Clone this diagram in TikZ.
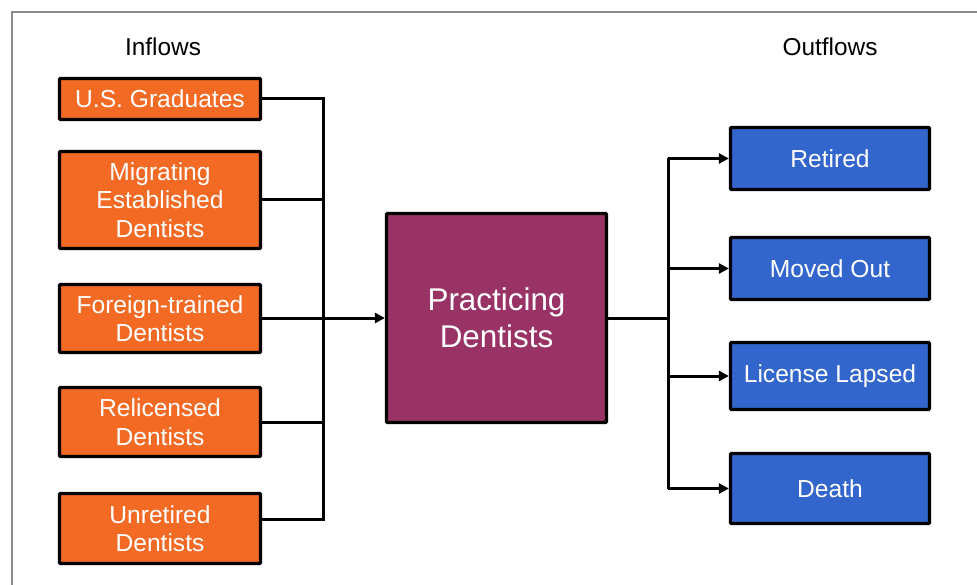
\documentclass[tikz,border=0pt]{standalone}
\usepackage{fontspec}
\setmainfont{Liberation Sans}
\usetikzlibrary{arrows.meta}
\definecolor{inorange}{HTML}{F26A24}
\definecolor{pdpurple}{HTML}{993366}
\definecolor{outblue}{HTML}{3366CC}
\definecolor{framegray}{HTML}{8C8C8C}
\begin{document}
\begin{tikzpicture}[x=1pt,y=-1pt,
  box/.style={draw=black,line width=3.2pt,rounded corners=1pt,inner sep=0pt,text=white,align=center,
    font=\fontsize{24.6}{28.5}\selectfont},
  inbox/.style={box,fill=inorange,minimum width=201pt},
  outbox/.style={box,fill=outblue,minimum width=199pt},
  conn/.style={line width=3pt,line join=miter},
  arr/.style={conn,-{Triangle[length=10pt,width=10pt]}},
  head/.style={font=\fontsize{24.4}{28}\selectfont,inner sep=0pt}]
\useasboundingbox (0,0) rectangle (977,585);
\begin{scope}
\clip (0,0) rectangle (977,585);
\draw[framegray,line width=1.5pt] (12,12) rectangle (1000,620);
\end{scope}
\node[head] (inh) at (163,47) {Inflows};
\node[head] (outh) at (830,47) {Outflows};
\node[inbox,minimum height=41pt] (us) at (160,99) {U.S. Graduates};
\node[inbox,minimum height=97pt] (mig) at (160,200) {Migrating\\Established\\Dentists};
\node[inbox,minimum height=68pt] (for) at (160,318.5) {Foreign-trained\\Dentists};
\node[inbox,minimum height=69pt] (rel) at (160,422) {Relicensed\\Dentists};
\node[inbox,minimum height=70pt] (unr) at (160,528.5) {Unretired\\Dentists};
\node[box,fill=pdpurple,minimum width=220pt,minimum height=209pt,font=\fontsize{31.4}{37}\selectfont] (pd) at (496.5,318) {Practicing\\Dentists};
\node[outbox,minimum height=62pt] (ret) at (830,158.5) {Retired};
\node[outbox,minimum height=62pt] (mov) at (830,268.5) {Moved Out};
\node[outbox,minimum height=67pt] (lic) at (830,376) {License Lapsed};
\node[outbox,minimum height=70pt] (dea) at (830,488.5) {Death};
\coordinate (bt) at (323,99);
\coordinate (bb) at (323,519);
\coordinate (rx) at (668,318);
\draw[conn] (us.east) -- (bt) -- (bb) -- ([yshift=9.5pt]unr.east);
\draw[conn] (mig.east) -- (mig.east -| bt);
\draw[conn] (for.east) -- (for.east -| bt);
\draw[conn] (rel.east) -- (rel.east -| bt);
\draw[arr] (bt |- pd.west) -- (pd.west);
\draw[conn] (pd.east) -- (rx);
\draw[conn] (rx |- ret.west) -- (rx |- dea.west);
\draw[arr] (rx |- ret.west) -- (ret.west);
\draw[arr] (rx |- mov.west) -- (mov.west);
\draw[arr] (rx |- lic.west) -- (lic.west);
\draw[arr] (rx |- dea.west) -- (dea.west);
\end{tikzpicture}
\end{document}
